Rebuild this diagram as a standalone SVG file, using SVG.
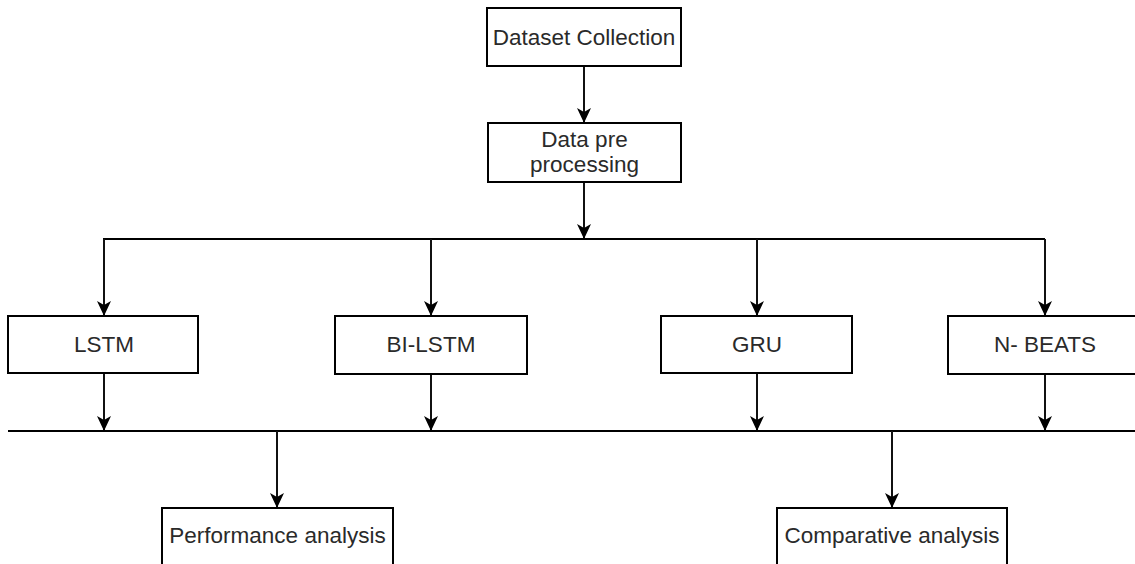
<svg xmlns="http://www.w3.org/2000/svg" width="1135" height="564" viewBox="0 0 1135 564">
  <style>
    .box { fill: #ffffff; stroke: #000000; stroke-width: 2; }
    .label { font-family: "Liberation Sans", Arial, sans-serif; font-size: 22.5px; fill: #2a2a2a; text-anchor: middle; }
    .wire { fill: none; stroke: #000000; stroke-width: 2; }
    .arrow { fill: none; stroke: #111111; stroke-width: 2; marker-end: url(#head); }
  </style>
  <defs>
    <marker id="head" markerUnits="userSpaceOnUse" markerWidth="16" markerHeight="16" viewBox="0 -8 16 16" refX="15" refY="0" orient="auto">
      <path d="M0,-7 L15,0 L0,7 L4,0 Z" fill="#000000"/>
    </marker>
  </defs>
  <rect width="1135" height="564" fill="#ffffff"/>

  <g id="connectors">
    <!-- top flow -->
    <line class="arrow" x1="584" y1="66" x2="584" y2="123"/>
    <line class="arrow" x1="584" y1="182" x2="584" y2="239"/>
    <!-- fan-out bus -->
    <polyline class="wire" points="104,372 104,239 1045,239"/>
    <line class="arrow" x1="104" y1="239" x2="104" y2="316"/>
    <line class="arrow" x1="431" y1="239" x2="431" y2="316"/>
    <line class="arrow" x1="757" y1="239" x2="757" y2="316"/>
    <line class="arrow" x1="1045" y1="239" x2="1045" y2="316"/>
    <!-- model outputs into collector bus -->
    <line class="arrow" x1="104" y1="373" x2="104" y2="431"/>
    <line class="arrow" x1="431" y1="374" x2="431" y2="431"/>
    <line class="arrow" x1="757" y1="373" x2="757" y2="431"/>
    <line class="arrow" x1="1045" y1="374" x2="1045" y2="431"/>
    <line class="wire" x1="8" y1="431" x2="1135" y2="431"/>
    <!-- analyses -->
    <line class="arrow" x1="277" y1="431" x2="277" y2="508"/>
    <line class="arrow" x1="892" y1="431" x2="892" y2="508"/>
  </g>

  <g id="dataset-collection">
    <rect class="box" x="487" y="8" width="194" height="58"/>
    <text class="label" x="584" y="45">Dataset Collection</text>
  </g>

  <g id="data-preprocessing">
    <rect class="box" x="488" y="123" width="193" height="59"/>
    <text class="label" x="584.5" y="147">Data pre</text>
    <text class="label" x="584.5" y="172">processing</text>
  </g>

  <g id="lstm">
    <rect class="box" x="8" y="316" width="190" height="57"/>
    <text class="label" x="104" y="352">LSTM</text>
  </g>

  <g id="bi-lstm">
    <rect class="box" x="335" y="316" width="192" height="58"/>
    <text class="label" x="431" y="352">BI-LSTM</text>
  </g>

  <g id="gru">
    <rect class="box" x="661" y="316" width="191" height="57"/>
    <text class="label" x="757" y="352">GRU</text>
  </g>

  <g id="n-beats">
    <rect class="box" x="948" y="316" width="200" height="58"/>
    <text class="label" x="1045" y="352">N- BEATS</text>
  </g>

  <g id="performance-analysis">
    <rect class="box" x="162" y="508" width="231" height="80"/>
    <text class="label" x="277.5" y="543">Performance analysis</text>
  </g>

  <g id="comparative-analysis">
    <rect class="box" x="777" y="508" width="230" height="80"/>
    <text class="label" x="892" y="543">Comparative analysis</text>
  </g>
</svg>
